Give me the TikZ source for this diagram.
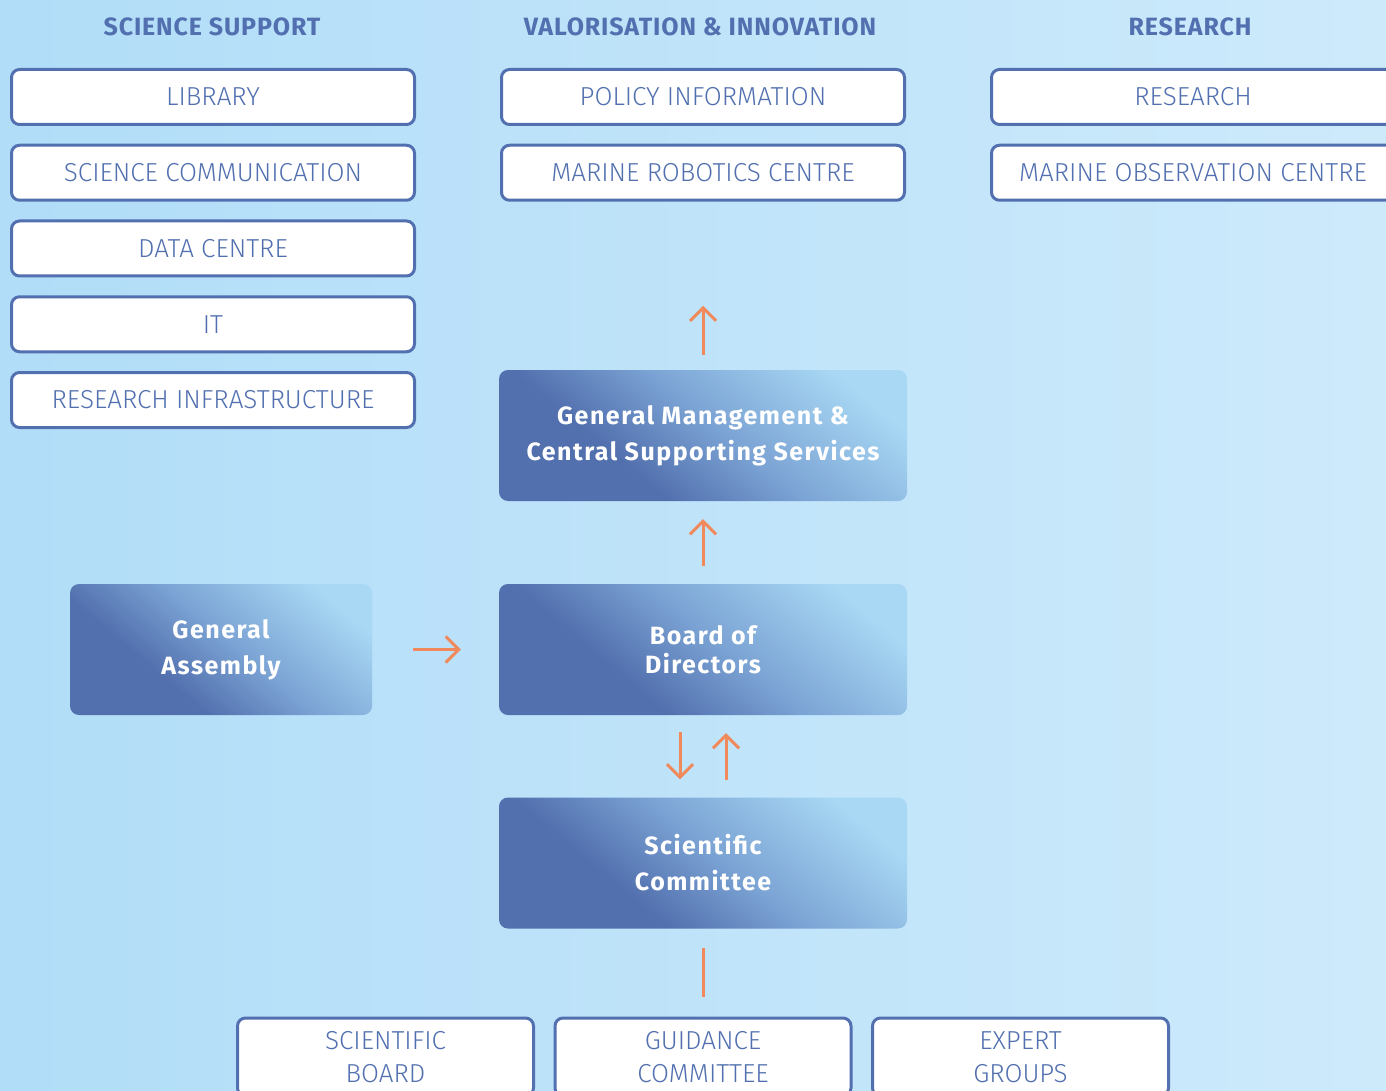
\documentclass[tikz,border=0pt]{standalone}
\usepackage{fontspec}
\setmainfont{Fira Sans}
\newfontfamily\lightfont{Fira Sans Light}
\newfontfamily\headfont[LetterSpace=3.5]{Fira Sans Bold}
\newfontfamily\bodyfont[LetterSpace=6]{Fira Sans Bold}
\usetikzlibrary{arrows.meta,positioning}
\definecolor{unitblue}{HTML}{5270B0}
\definecolor{linkorange}{HTML}{F08A5D}
\definecolor{skyleft}{HTML}{B1DDF8}
\definecolor{skyright}{HTML}{CDEAFB}
\definecolor{boxdark}{HTML}{5270AE}
\definecolor{boxmid}{HTML}{7BA3D4}
\definecolor{boxlight}{HTML}{A8D8F4}
\pgfdeclareverticalshading{bodyshade}{100bp}{color(0bp)=(boxdark); color(36bp)=(boxdark); color(53bp)=(boxmid); color(76bp)=(boxlight); color(100bp)=(boxlight)}

\begin{document}
\begin{tikzpicture}[x=1pt,y=-1pt,node distance=75.75pt,
		unit box/.style={draw=unitblue,line width=3pt,fill=white,rounded corners=8pt,minimum width=403pt,minimum height=55pt,inner sep=0pt,text=unitblue,align=center,font=\lightfont\fontsize{26}{33}\selectfont},
		head node/.style={text=unitblue,font=\headfont\fontsize{25}{28}\selectfont},
		body box/.style={shading=bodyshade,shading angle=-40,rounded corners=9pt,minimum width=408pt,minimum height=131pt,inner sep=0pt,text=white,align=center,font=\bodyfont\fontsize{25}{36}\selectfont},
		link/.style={draw=linkorange,line width=3pt,-{Straight Barb[length=13pt,width=26pt]}}]
		
		\useasboundingbox (0,0) rectangle (1386,1091);
		\clip (0,0) rectangle (1386,1091);
		\shade[left color=skyleft,right color=skyright] (0,0) rectangle (1386,1091);
		
		% column heads
		\node[head node] (hsup) at (212,27) {SCIENCE SUPPORT};
		\node[head node] (hval) at (700,27) {VALORISATION \& INNOVATION};
		\node[head node] (hres) at (1190,27) {RESEARCH};
		
		\node[unit box] (lib) at (213,97) {LIBRARY};
		\node[unit box] (scom) [below of=lib] {SCIENCE COMMUNICATION};
		\node[unit box] (data) [below of=scom] {DATA CENTRE};
		\node[unit box] (it) [below of=data] {IT};
		\node[unit box] (infra) [below of=it] {RESEARCH INFRASTRUCTURE};
		
		\node[unit box] (policy) at (703,97) {POLICY INFORMATION};
		\node[unit box] (robot) [below of=policy] {MARINE ROBOTICS CENTRE};
		
		\node[unit box] (res) at (1193,97) {RESEARCH};
		\node[unit box] (obs) [below of=res] {MARINE OBSERVATION CENTRE};
		
		% governance
		\node[body box] (gm) at (703,435.5) {General Management \&\\Central Supporting Services};
		\node[body box] (board) at (703,649.5) {Board of\\[-7pt]Directors};
		\node[body box,minimum width=302pt] (ga) at (221,649.5) {General\\Assembly};
		\node[body box] (sc) at (703,863) {Scientific\\Committee};
		
		\node[unit box,minimum width=296pt,minimum height=78pt] (sb) at (385.5,1057) {SCIENTIFIC\\BOARD};
		\node[unit box,minimum width=296pt,minimum height=78pt] (gc) at (703,1057) {GUIDANCE\\COMMITTEE};
		\node[unit box,minimum width=296pt,minimum height=78pt] (eg) at (1020.5,1057) {EXPERT\\GROUPS};
		
		\path
		(gm) edge[link,shorten <=15pt,shorten >=104pt] (robot)
		(board) edge[link,shorten <=18pt,shorten >=18pt] (gm)
		(ga) edge[link,shorten <=41pt,shorten >=38pt] (board)
		([xshift=-23pt]board.south) edge[link,shorten <=17pt,shorten >=18pt] ([xshift=-23pt]sc.north)
		([xshift=23pt]sc.north) edge[link,shorten <=17pt,shorten >=18pt] ([xshift=23pt]board.south)
		(gc) edge[link,-,shorten <=20pt,shorten >=19pt] (sc);
		\end{tikzpicture}
\end{document}
